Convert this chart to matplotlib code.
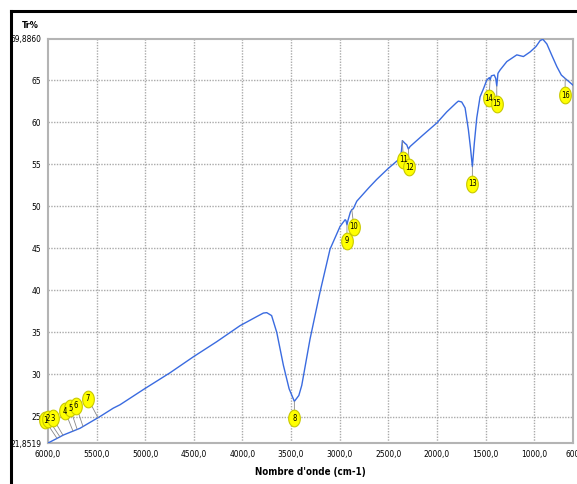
import numpy as np
import matplotlib
matplotlib.use("Agg")
import matplotlib.pyplot as plt
from matplotlib.lines import Line2D
from matplotlib.path import Path
from matplotlib.transforms import offset_copy

# IR spectrum (wavenumber cm-1, transmittance %)
wavenumber = [6000, 5907, 5842, 5671, 5465, 5328, 5259, 5020, 4745, 4505,
              4264, 4025, 3850, 3785, 3750, 3700, 3647, 3579, 3520, 3466,
              3420, 3390, 3305, 3202, 3099, 2996, 2944, 2935, 2925, 2915,
              2890, 2875, 2860, 2824, 2700, 2618, 2500, 2379, 2365, 2355,
              2330, 2310, 2293, 2276, 2150, 2001, 1900, 1800, 1779, 1745,
              1710, 1676, 1655, 1635, 1615, 1590, 1556, 1520, 1487, 1460,
              1453, 1440, 1410, 1395, 1384, 1372, 1350, 1281, 1178, 1110,
              1041, 980, 938, 910, 869, 820, 766, 720, 681, 640, 600]
transmittance = [21.85, 22.4, 22.8, 23.6, 25.0, 26.0, 26.4, 28.2, 30.2, 32.1,
                 33.9, 35.8, 36.9, 37.3, 37.35, 37.0, 35.0, 31.1, 28.3, 26.8,
                 27.5, 28.7, 34.2, 39.8, 44.9, 47.6, 48.4, 48.3, 47.8, 48.3,
                 49.3, 49.6, 49.7, 50.6, 52.2, 53.2, 54.5, 55.7, 56.5, 57.8,
                 57.5, 57.3, 56.8, 57.1, 58.4, 59.9, 61.2, 62.3, 62.5, 62.4,
                 61.7, 59.1, 57.0, 54.7, 57.5, 60.5, 63.0, 64.0, 65.0, 65.3,
                 65.0, 65.5, 65.6, 65.2, 64.3, 65.8, 66.2, 67.2, 68.0, 67.8,
                 68.35, 69.0, 69.7, 69.85, 69.3, 68.0, 66.6, 65.6, 65.2, 64.8, 64.4]

peak_labels = [str(i) for i in range(1, 17)]
peak_wn = [5907, 5877, 5846, 5743, 5700, 5640, 5486, 3466, 2925, 2875,
           2355, 2293, 1635, 1453, 1384, 681]
# bubble offsets from the peak, in pixels
peak_off = [(-12, 18), (-12, 18), (-10, 17), (-8, 20), (-7, 21), (-7, 21),
            (-10, 19), (0, -17), (0, -16), (2, -17), (1, -19), (1, -18),
            (0, -17), (-1, -18), (0, -18), (0, -17)]

x_ticks = [6000, 5500, 5000, 4500, 4000, 3500, 3000, 2500, 2000, 1500, 1000, 600]
x_ticklabels = ["6000,0", "5500,0", "5000,0", "4500,0", "4000,0", "3500,0",
                "3000,0", "2500,0", "2000,0", "1500,0", "1000,0", "600"]
y_min, y_max = 21.8519, 69.886
y_ticks = [y_min, 25, 30, 35, 40, 45, 50, 55, 60, 65, y_max]
y_ticklabels = ["21,8519", "25", "30", "35", "40", "45", "50", "55", "60", "65", "69,8860"]

plt.rcParams["font.family"] = ["DejaVu Sans"]
plt.rcParams["font.stretch"] = "condensed"

fig = plt.figure(figsize=(5.77, 4.84), dpi=100)
ax = fig.add_axes([48 / 577, 41 / 484, 525 / 577, 404 / 484])

ax.plot(wavenumber, transmittance, color="#3a6be0", lw=1.0, zorder=3)

ax.set_xlim(6000, 600)
ax.set_ylim(y_min, y_max)
ax.set_xticks(x_ticks)
ax.set_xticklabels(x_ticklabels, fontsize=6)
ax.set_yticks(y_ticks)
ax.set_yticklabels(y_ticklabels, fontsize=6)
ax.tick_params(length=0, pad=5)

# grid only on the regular ticks
for xv in x_ticks[1:-1]:
    ax.axvline(xv, color="#aaaaaa", lw=1.0, ls=(0, (1, 1)), zorder=1)
for yv in y_ticks[1:-1]:
    ax.axhline(yv, color="#aaaaaa", lw=1.0, ls=(0, (1, 1)), zorder=1)

for s in ax.spines.values():
    s.set_color("#b4b4b4")
    s.set_linewidth(1.5)

ax.set_xlabel("Nombre d'onde (cm-1)", fontsize=7, fontweight="bold", labelpad=6)
fig.text(22 / 577, 1 - 26 / 484, "Tr%", fontsize=6.5, fontweight="bold", va="center")

# tall ellipse marker for the bubbles
t = np.linspace(0, 2 * np.pi, 60)
ellipse = Path(np.column_stack([0.7 * np.cos(t), np.sin(t)]), closed=True)

for lab, wn, off in zip(peak_labels, peak_wn, peak_off):
    yv = np.interp(wn, wavenumber[::-1], transmittance[::-1])
    ax.annotate("", xy=(wn, yv), xytext=off, textcoords="offset pixels",
                arrowprops=dict(arrowstyle="-", color="#888888", lw=0.6,
                                shrinkA=0, shrinkB=0),
                annotation_clip=False, zorder=4)
    tr = offset_copy(ax.transData, fig=fig, x=off[0], y=off[1], units="dots")
    ax.plot([wn], [yv], marker=ellipse, ms=12, mfc="#ffff00", mec="#c8c800",
            mew=0.8, transform=tr, clip_on=False, zorder=5)
    ax.text(wn, yv, lab, transform=tr, ha="center", va="center",
            fontsize=5.5, zorder=6, clip_on=False)

# outer black frame (left and top)
fig.add_artist(Line2D([11 / 577, 11 / 577], [0, 1 - 11 / 484], color="black",
                      lw=2.2, transform=fig.transFigure))
fig.add_artist(Line2D([11 / 577, 1], [1 - 11 / 484, 1 - 11 / 484], color="black",
                      lw=2.2, transform=fig.transFigure))

fig.savefig("out.png", dpi=100)
